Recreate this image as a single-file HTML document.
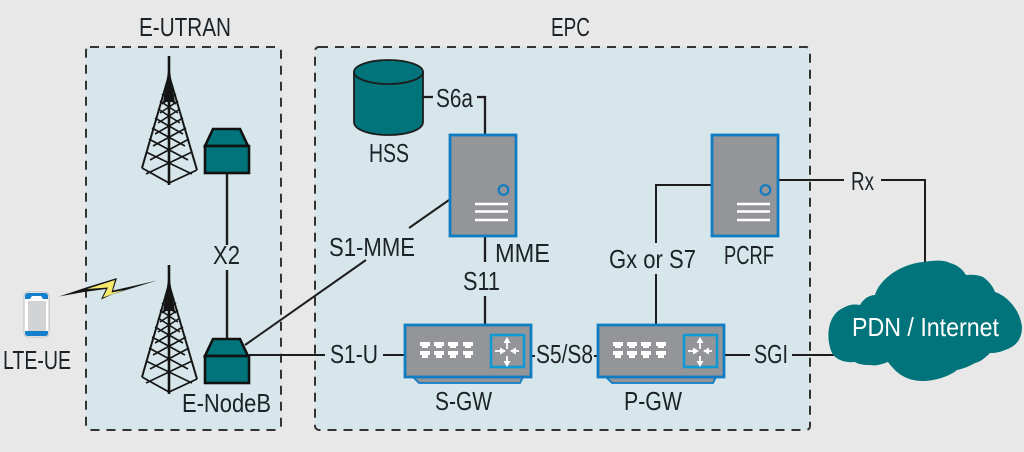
<!DOCTYPE html>
<html>
<head>
<meta charset="utf-8">
<style>
html,body{margin:0;padding:0;background:#e8e8e8}
svg{display:block}
text{font-family:"Liberation Sans",sans-serif;font-size:26px;fill:#1b2328}
</style>
</head>
<body>
<svg width="1024" height="452" viewBox="0 0 1024 452" xmlns="http://www.w3.org/2000/svg">
<defs>
<g id="tower" fill="none" stroke="#151515">
  <path d="M0 0V129" stroke-width="2.6"/>
  <path d="M0 19L-27 112M0 19L28 114" stroke-width="2"/>
  <path d="M-27 112L0 127L28 114" stroke-width="1.7"/>
  <path d="M-23 96L23 118M23 96L-23 118M-20 83L19 104M20 83L-19 104M-17 72L16 90M17 72L-16 90M-14 62L14 78M14 62L-14 78M-11 53L11 67M11 53L-11 67M-9 45L9 57M9 45L-9 57M-7 38L7 48M7 38L-7 48" stroke-width="1.6"/>
  <path d="M-4 36L0 8L4 36L6 46H-6Z" fill="#151515" stroke="none"/>
</g>
<g id="enb" stroke="#111" stroke-width="2.6" fill="#00747a" stroke-linejoin="miter">
  <path d="M8 0H35L43 17H0Z"/>
  <rect x="0" y="17" width="44" height="27"/>
</g>
<g id="server">
  <rect x="0" y="0" width="66" height="101" fill="#939598" stroke="#0f7cc4" stroke-width="2.8"/>
  <circle cx="53.500" cy="55" r="4.800" fill="none" stroke="#0f7cc4" stroke-width="2.2"/>
  <path d="M25 69H58M25 76.500H58M25 85H58" stroke="#fff" stroke-width="2.600"/>
</g>
<g id="p1" fill="#fff"><path d="M0 0H10V4H8V6H2V4H0Z"/></g>
<g id="p2" fill="#fff"><path d="M0 0H10V4H8V7H2V4H0Z"/></g>
<g id="gw">
  <path d="M8 52H118L115 58H14Z" fill="#939598" stroke="#0f7cc4" stroke-width="1.8"/>
  <rect x="0" y="0" width="126" height="52" fill="#939598" stroke="#0f7cc4" stroke-width="2.800"/>
  <use href="#p1" x="15" y="17"/><use href="#p1" x="29" y="17"/><use href="#p1" x="43" y="17"/><use href="#p1" x="58" y="17"/>
  <use href="#p2" x="15" y="26"/><use href="#p2" x="29" y="26"/><use href="#p2" x="43" y="26"/><use href="#p2" x="58" y="26"/>
  <rect x="86" y="10" width="33" height="32" fill="#939598" stroke="#0f9ad6" stroke-width="2.600"/>
  <g stroke="#fff" stroke-width="1.8" fill="#fff">
    <path d="M102 15V24M102 31V39M90 26H100M106 26H114" fill="none"/>
    <path d="M102 12L98.500 18H105.500ZM102 42L98.500 36H105.500ZM101 26L95 22.500V29.500ZM105 26L111 22.500V29.500Z" stroke="none"/>
  </g>
</g>
</defs>

<rect width="1024" height="452" fill="#e8e8e8"/>
<rect x="86" y="47" width="195" height="383" rx="4" fill="#d7e6ea" stroke="#333" stroke-width="2" stroke-dasharray="9 7"/>
<rect x="315" y="47" width="495" height="383" rx="4" fill="#d7e6ea" stroke="#333" stroke-width="2" stroke-dasharray="9 7"/>

<!-- connectors -->
<g stroke="#1d1d1d" fill="none" stroke-width="2">
  <path d="M227 173V245M227 270V339" stroke-width="2.400"/>
  <path d="M449 200L409 228M366 260L245 345"/>
  <path d="M249 355H325M383 355H404"/>
  <path d="M423 97H433M477 97H485V135" stroke-width="2.300"/>
  <path d="M485 236V262M485 296V325" stroke-width="2.300"/>
  <path d="M531 356H535M594 356H598"/>
  <path d="M711 185H656V243M656 274V325"/>
  <path d="M778 180H844M881 180H925V262"/>
  <path d="M724 355H750M792 355H836"/>
</g>

<!-- towers -->
<use href="#tower" x="169" y="56"/>
<use href="#tower" x="169" y="265"/>
<use href="#enb" x="205" y="129"/>
<use href="#enb" x="205" y="339"/>

<!-- lightning -->
<path d="M59 296.500L86 287.500L117 278L113 290.500L157 280.500L113 294L101 299.500L106 289L84 292Z" fill="#151515"/>
<path d="M87 289L115 280L111.500 292.500L124 290L103 297.500L108 287.500Z" fill="#f5ea6e"/>

<!-- phone -->
<rect x="24" y="292" width="25" height="45" rx="4" fill="#fff" stroke="#b9bcbf" stroke-width="1"/>
<path d="M25 299V296Q25 293 28 293H45Q48 293 48 296V299H43L41 296H32L30 299Z" fill="#1480cc"/>
<path d="M25 331V333Q25 336 28 336H45Q48 336 48 333V331Z" fill="#1480cc"/>
<rect x="28" y="301" width="18" height="30" fill="#d2d3d5"/>

<!-- HSS -->
<path d="M354 72V122C354 130 370 135 388.500 135C407 135 423 130 423 122V72Z" fill="#00747a" stroke="#1d1d1d" stroke-width="1.800"/>
<ellipse cx="388.500" cy="72" rx="34.500" ry="12" fill="#00747a" stroke="#1d1d1d" stroke-width="1.800"/>

<!-- servers -->
<use href="#server" x="450" y="135"/>
<use href="#server" x="712" y="135"/>

<!-- gateways -->
<use href="#gw" x="405" y="325"/>
<use href="#gw" x="598" y="325"/>

<!-- cloud -->
<path d="M833 355C825 340 827 315 843 308C850 304 855 304 860 305C864 298 870 295 875 295C879 280 900 264 923 262C935 260 945 260 950 263C958 265 963 270 966 275C975 274 981 276 983 277C990 282 993 287 995 292C1005 295 1020 308 1022 327C1022 340 1015 347 1005 350C998 353 993 353 990 353C985 358 980 362 975 363C968 367 962 369 957 370C950 376 935 381 923 381C910 381 902 376 897 372C893 368 890 365 888 362C880 365 875 366 870 365C863 365 858 364 855 362C845 363 838 360 833 355Z" fill="#00747a"/>

<!-- labels -->
<text x="139" y="36" textLength="92" lengthAdjust="spacingAndGlyphs">E-UTRAN</text>
<text x="551" y="36" textLength="39" lengthAdjust="spacingAndGlyphs">EPC</text>
<text x="3" y="369" textLength="68" lengthAdjust="spacingAndGlyphs">LTE-UE</text>
<text x="213" y="264" textLength="27" lengthAdjust="spacingAndGlyphs">X2</text>
<text x="182" y="412" textLength="89" lengthAdjust="spacingAndGlyphs">E-NodeB</text>
<text x="436" y="107" textLength="37" lengthAdjust="spacingAndGlyphs">S6a</text>
<text x="369" y="162" textLength="40" lengthAdjust="spacingAndGlyphs">HSS</text>
<text x="495" y="262" textLength="55" lengthAdjust="spacingAndGlyphs">MME</text>
<text x="329" y="256" textLength="86" lengthAdjust="spacingAndGlyphs">S1-MME</text>
<text x="463" y="290" textLength="37" lengthAdjust="spacingAndGlyphs">S11</text>
<text x="330" y="363" textLength="48" lengthAdjust="spacingAndGlyphs">S1-U</text>
<text x="536" y="363" textLength="57" lengthAdjust="spacingAndGlyphs">S5/S8</text>
<text x="754" y="363" textLength="34" lengthAdjust="spacingAndGlyphs">SGI</text>
<text x="435" y="410" textLength="57" lengthAdjust="spacingAndGlyphs">S-GW</text>
<text x="624" y="410" textLength="58" lengthAdjust="spacingAndGlyphs">P-GW</text>
<text x="609" y="268" textLength="87" lengthAdjust="spacingAndGlyphs">Gx or S7</text>
<text x="724" y="264" textLength="50" lengthAdjust="spacingAndGlyphs">PCRF</text>
<text x="851" y="190" textLength="23" lengthAdjust="spacingAndGlyphs">Rx</text>
<text x="852" y="336" textLength="147" lengthAdjust="spacingAndGlyphs" style="fill:#fff">PDN / Internet</text>
</svg>
</body>
</html>
